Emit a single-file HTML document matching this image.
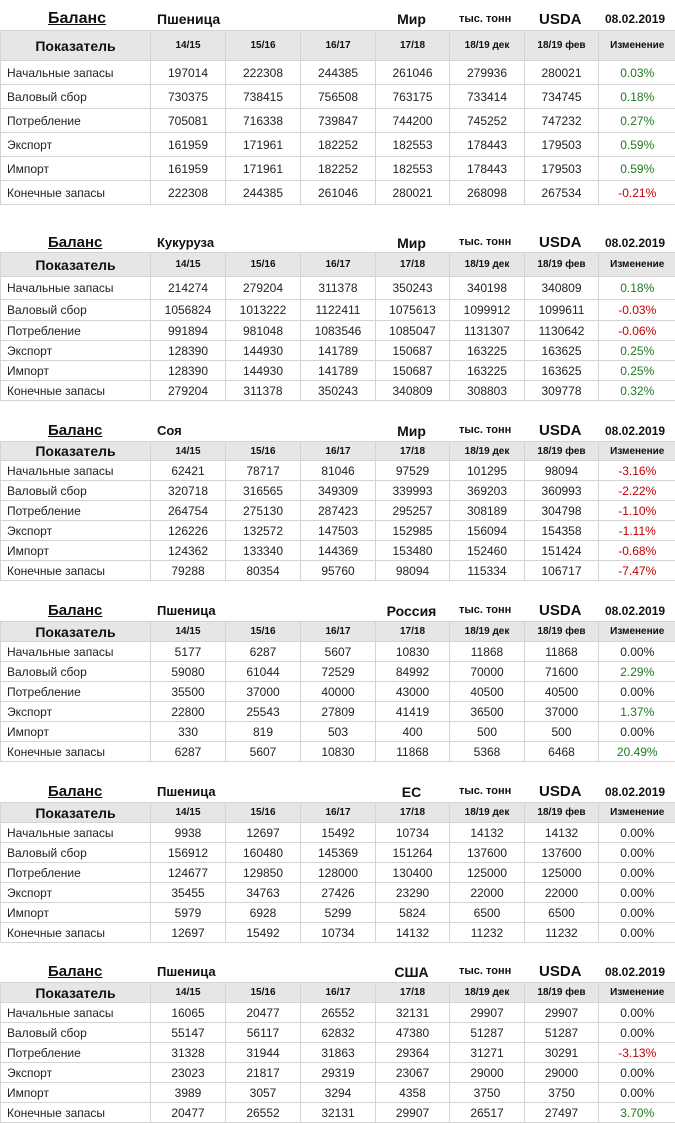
<!DOCTYPE html>
<html><head><meta charset="utf-8">
<style>
body{margin:0;width:675px;height:1124px;background:#fff;position:relative;overflow:hidden;font-family:"Liberation Sans","DejaVu Sans",sans-serif;color:#222}
.t{position:absolute;left:0;width:675px}
.ttl{position:absolute;font-weight:bold;white-space:nowrap;color:#111}
.grid{position:absolute;left:0;border-collapse:collapse;table-layout:fixed}
.grid td{border:1px solid #d4d4d4;text-align:center;padding:0;font-size:12px;white-space:nowrap;overflow:hidden}
.grid td:last-child{border-right:none}
.grid tr.h td{background:#e6e6e6;font-weight:bold;font-size:10px;color:#111}
.grid tr.h td.l{font-size:14px}
.grid td.l{text-align:left;padding-left:6px}
.grid tr.h td.l{text-align:center;padding-left:0}
.pos{color:#1e7a1e}.neg{color:#c00000}
</style></head><body>
<script>
const rowLabels=["Начальные запасы","Валовый сбор","Потребление","Экспорт","Импорт","Конечные запасы"];
const colHeads=["Показатель","14/15","15/16","16/17","17/18","18/19 дек","18/19 фев","Изменение"];
const crops=["Пшеница","Кукуруза","Соя","Пшеница","Пшеница","Пшеница"];
const regions=["Мир","Мир","Мир","Россия","ЕС","США"];
const vals1=[[197014,222308,244385,261046,279936,280021],[730375,738415,756508,763175,733414,734745],[705081,716338,739847,744200,745252,747232],[161959,171961,182252,182553,178443,179503],[161959,171961,182252,182553,178443,179503],[222308,244385,261046,280021,268098,267534]];
const chg1=["0.03%","0.18%","0.27%","0.59%","0.59%","-0.21%"];
const vals2=[[214274,279204,311378,350243,340198,340809],[1056824,1013222,1122411,1075613,1099912,1099611],[991894,981048,1083546,1085047,1131307,1130642],[128390,144930,141789,150687,163225,163625],[128390,144930,141789,150687,163225,163625],[279204,311378,350243,340809,308803,309778]];
const chg2=["0.18%","-0.03%","-0.06%","0.25%","0.25%","0.32%"];
const vals3=[[62421,78717,81046,97529,101295,98094],[320718,316565,349309,339993,369203,360993],[264754,275130,287423,295257,308189,304798],[126226,132572,147503,152985,156094,154358],[124362,133340,144369,153480,152460,151424],[79288,80354,95760,98094,115334,106717]];
const chg3=["-3.16%","-2.22%","-1.10%","-1.11%","-0.68%","-7.47%"];
const vals4=[[5177,6287,5607,10830,11868,11868],[59080,61044,72529,84992,70000,71600],[35500,37000,40000,43000,40500,40500],[22800,25543,27809,41419,36500,37000],[330,819,503,400,500,500],[6287,5607,10830,11868,5368,6468]];
const chg4=["0.00%","2.29%","0.00%","1.37%","0.00%","20.49%"];
const vals5=[[9938,12697,15492,10734,14132,14132],[156912,160480,145369,151264,137600,137600],[124677,129850,128000,130400,125000,125000],[35455,34763,27426,23290,22000,22000],[5979,6928,5299,5824,6500,6500],[12697,15492,10734,14132,11232,11232]];
const chg5=["0.00%","0.00%","0.00%","0.00%","0.00%","0.00%"];
const vals6=[[16065,20477,26552,32131,29907,29907],[55147,56117,62832,47380,51287,51287],[31328,31944,31863,29364,31271,30291],[23023,21817,29319,23067,29000,29000],[3989,3057,3294,4358,3750,3750],[20477,26552,32131,29907,26517,27497]];
const chg6=["0.00%","0.00%","-3.13%","0.00%","0.00%","3.70%"];
const allVals=[vals1,vals2,vals3,vals4,vals5,vals6];
const allChg=[chg1,chg2,chg3,chg4,chg5,chg6];
// layout
const tops=[7,232,420,600,781,961];
const hdrTop=[30,252,441,621,802,982];
const hdrH=[30,24,19,20,20,20];
const rowH=[[24,24,24,24,24,24],[23,21,20,20,20,20],[20,20,20,20,20,20],[20,20,20,20,20,20],[20,20,20,20,20,20],[20,20,20,20,20,20]];
const colW=[150,75,75,75,74,75,74,77];

for(let t=0;t<6;t++){
  const wrap=document.createElement('div');
  wrap.className='t';
  
  
  document.body.appendChild(wrap);
  const ty=tops[t];
  const big=t===0?16:15;
  const titles=[["Баланс",48,big,'balance-title',true],[crops[t],157,t===0?14:13,'crop-name'],[regions[t],0,14,'region-name'],["тыс. тонн",459,11,'units-label'],["USDA",539,15,'source-label'],["08.02.2019",605,12,'date-label']];
  titles.forEach(([txt,x,fs,name,ul])=>{
    const s=document.createElement('div');
    s.className='ttl';
    
    
    s.textContent=txt;
    s.style.fontSize=fs+'px';
    s.style.top=(ty+(t===0?3:2)+(big-fs)/2)+'px';
    if(name==='region-name'){s.style.left='374px';s.style.width='75px';s.style.textAlign='center';}
    else s.style.left=x+'px';
    if(ul) s.style.textDecoration='underline';
    wrap.appendChild(s);
  });
  const tb=document.createElement('table');
  tb.className='grid';
  
  
  tb.style.top=hdrTop[t]+'px';
  const cg=document.createElement('colgroup');
  colW.forEach(w=>{const c=document.createElement('col');c.style.width=w+'px';cg.appendChild(c);});
  tb.appendChild(cg);
  tb.style.width=colW.reduce((a,b)=>a+b,0)+'px';
  const hr=document.createElement('tr');hr.className='h';hr.style.height=hdrH[t]+'px';
  
  
  colHeads.forEach((h,i)=>{const td=document.createElement('td');td.textContent=h;if(i===0)td.className='l';
    
    
    hr.appendChild(td);});
  tb.appendChild(hr);
  const V=allVals[t],C=allChg[t];
  for(let r=0;r<6;r++){
    const tr=document.createElement('tr');tr.style.height=rowH[t][r]+'px';
    
    
    const l=document.createElement('td');l.className='l';l.textContent=rowLabels[r];
    
    
    tr.appendChild(l);
    V[r].forEach(v=>{const td=document.createElement('td');td.textContent=v;
      
      
      tr.appendChild(td);});
    const c=document.createElement('td');c.textContent=C[r];
    const num=parseFloat(C[r]);
    c.className=num>0?'pos':(num<0?'neg':'');
    
    
    tr.appendChild(c);
    tb.appendChild(tr);
  }
  wrap.appendChild(tb);
}
</script>
</body></html>
